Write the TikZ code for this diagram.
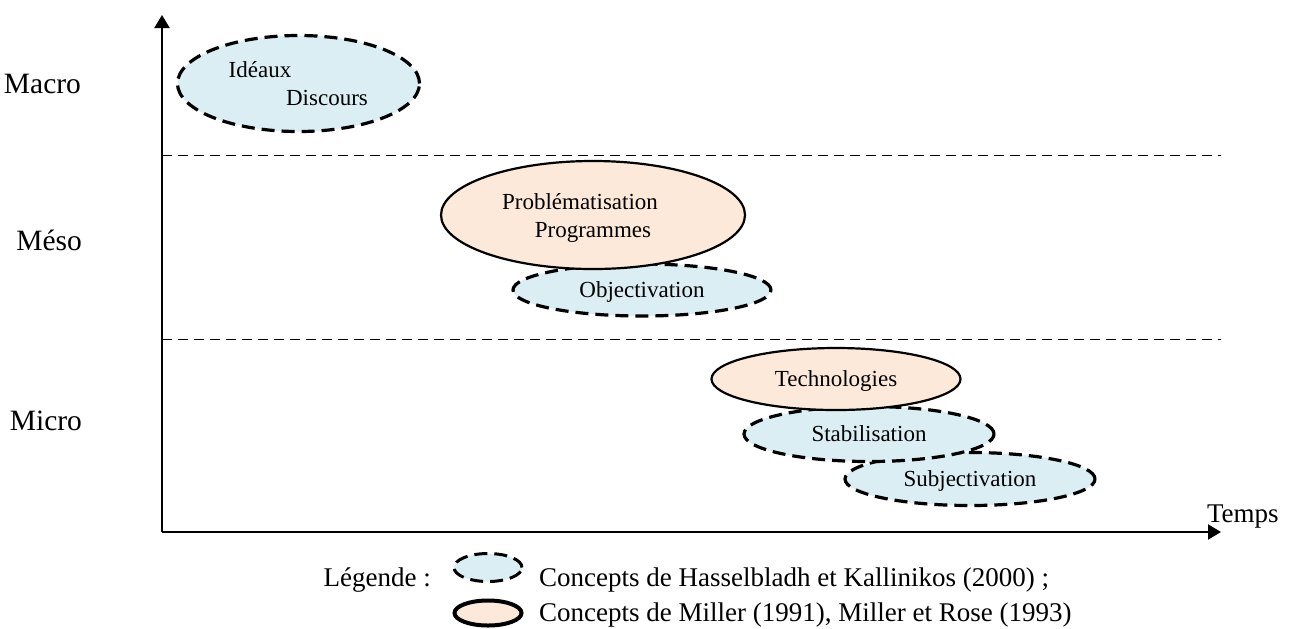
\documentclass[tikz,border=0pt]{standalone}
\usepackage{fontspec}
\setmainfont{Liberation Serif}
\usepackage{tikz}
\usetikzlibrary{arrows.meta, shapes.geometric}
\definecolor{hkblue}{HTML}{DAEEF3}
\definecolor{mrorange}{HTML}{FDE9D9}
\tikzset{
  concept/.style={ellipse, inner sep=0pt, align=center, text depth=0pt, font=\fontsize{11.5}{14}\selectfont},
  hk/.style={concept, draw, fill=hkblue, line width=1.6pt, dash pattern=on 6.5pt off 3.5pt},
  mr/.style={concept, draw, fill=mrorange, line width=1.1pt},
  level/.style={anchor=base east, font=\fontsize{14.75}{17}\selectfont},
  legendtext/.style={anchor=base west, font=\fontsize{13.5}{16}\selectfont},
  gridline/.style={dash pattern=on 5pt off 3pt, line width=0.5pt}
}

\begin{document}
\begin{tikzpicture}[x=0.5pt, y=-0.5pt, >={Triangle[length=6.5pt,width=7.5pt]}]
      \useasboundingbox (0,0) rectangle (1289,628);

      \coordinate (origin) at (162,532);
      \coordinate (ytip) at (162,15);
      \coordinate (xtip) at (1221,532);
      \coordinate (macrolow) at (162,155);
      \coordinate (macroend) at (1221,155);
      \coordinate (mesolow) at (162,339);
      \coordinate (mesoend) at (1221,339);

      \draw[gridline] (macrolow) -- (macroend);
      \draw[gridline] (mesolow) -- (mesoend);
      \draw[->, line width=1pt] (origin) -- (ytip);
      \draw[->, line width=1pt] (origin) -- (xtip);
      \node[legendtext] (temps) at (1200,522) {Temps};

      \node[level] (macro) at (88,93) {Macro};
      \node[level] (meso) at (89,250) {Méso};
      \node[level] (micro) at (89,430) {Micro};

      \node[hk, minimum width=121pt, minimum height=48pt] (ideaux) at (298.5,83.5) {Idéaux\hspace*{38.5pt}\\\hspace*{28.5pt}Discours};
      \node[hk, minimum width=129pt, minimum height=26pt] (objectivation) at (642,290) {Objectivation};
      \node[mr, minimum width=152pt, minimum height=54pt] (problematisation) at (593,215) {Problématisation\hspace*{13pt}\\Programmes};
      \node[hk, minimum width=125pt, minimum height=26.5pt] (subjectivation) at (970,479) {Subjectivation};
      \node[hk, minimum width=125pt, minimum height=27.5pt] (stabilisation) at (869,434) {Stabilisation};
      \node[mr, minimum width=124.5pt, minimum height=31pt] (technologies) at (836,379) {Technologies};

      \node[legendtext, anchor=base east] (legende) at (438,586) {Légende :};
      \node[hk, minimum width=34pt, minimum height=14pt, line width=1.5pt] (keyhk) at (488,567.5) {};
      \node[legendtext] (texthk) at (532,586) {Concepts de Hasselbladh et Kallinikos (2000) ;};
      \node[mr, minimum width=33.5pt, minimum height=12.5pt, line width=2pt] (keymr) at (488,613) {};
      \node[legendtext] (textmr) at (532,621) {Concepts de Miller (1991), Miller et Rose (1993)};

    \end{tikzpicture}
\end{document}
